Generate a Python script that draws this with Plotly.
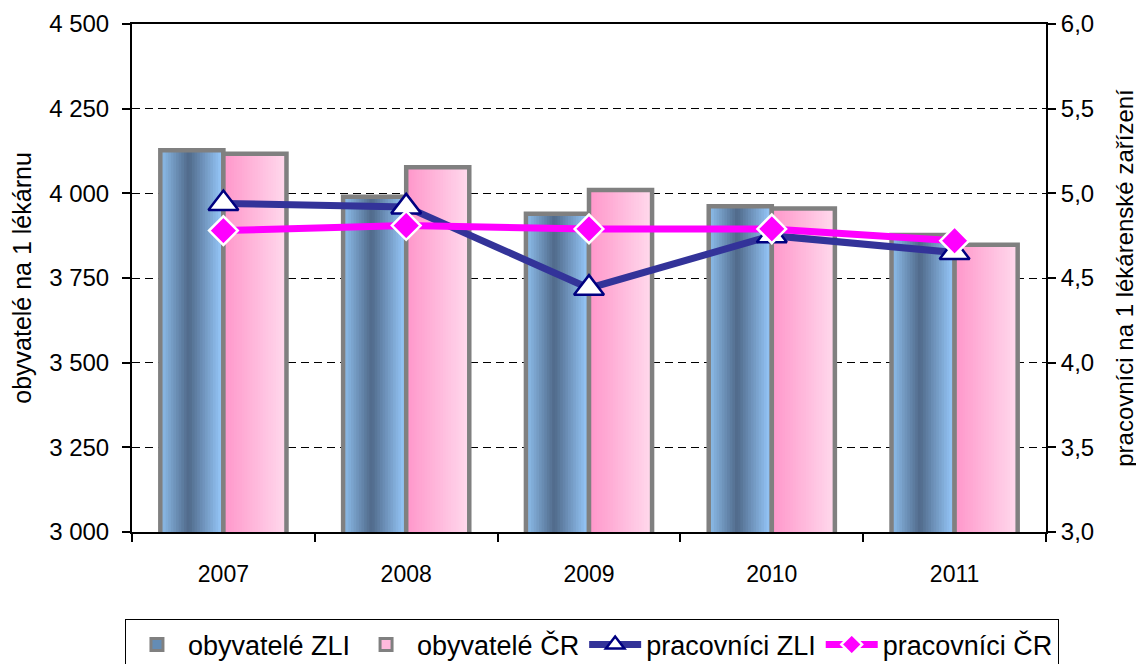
import plotly.graph_objects as go

years = ["2007", "2008", "2009", "2010", "2011"]
obyv_zli = [4127, 3990, 3940, 3962, 3877]
obyv_cr = [4117, 4077, 4010, 3955, 3848]
prac_zli = [4.94, 4.92, 4.44, 4.75, 4.65]
prac_cr = [4.78, 4.81, 4.79, 4.79, 4.72]

left_ticks = [3000, 3250, 3500, 3750, 4000, 4250, 4500]
right_ticks = [3.0, 3.5, 4.0, 4.5, 5.0, 5.5, 6.0]

FONT = "Liberation Sans, Arial, sans-serif"

# gradient definitions (position, rgb)
zli_stops = [(0.0, (143, 192, 238)), (0.45, (80, 106, 138)), (1.0, (153, 204, 255))]
cr_stops = [(0.0, (255, 150, 202)), (1.0, (255, 218, 237))]


def interp(stops, t):
    for (p0, c0), (p1, c1) in zip(stops[:-1], stops[1:]):
        if p0 <= t <= p1:
            f = (t - p0) / (p1 - p0) if p1 > p0 else 0
            c = [round(a + (b - a) * f) for a, b in zip(c0, c1)]
            return "rgb(%d,%d,%d)" % tuple(c)
    return "rgb(%d,%d,%d)" % stops[-1][1]


BW = 0.345
N = 24
fig = go.Figure()

# legend proxies
fig.add_trace(go.Bar(x=[None], y=[None], name="obyvatelé ZLI",
                     marker=dict(color="rgb(100,140,180)", line=dict(color="#808080", width=3))))
fig.add_trace(go.Bar(x=[None], y=[None], name="obyvatelé ČR",
                     marker=dict(color="rgb(255,185,220)", line=dict(color="#808080", width=3))))

for vals, stops, start in [(obyv_zli, zli_stops, -BW), (obyv_cr, cr_stops, 0.0)]:
    sw = BW / N
    for i in range(N):
        t = (i + 0.5) / N
        w = sw * 2 if i < N - 1 else sw
        fig.add_trace(go.Bar(x=years, y=vals, width=w, offset=start + i * sw,
                             marker=dict(color=interp(stops, t), line=dict(width=0)),
                             showlegend=False, hoverinfo="skip"))
    fig.add_trace(go.Bar(x=years, y=vals, width=BW, offset=start,
                         marker=dict(color="rgba(0,0,0,0)", line=dict(color="#808080", width=4.5)),
                         showlegend=False, hoverinfo="skip"))

fig.add_trace(go.Scatter(x=years, y=prac_zli, name="pracovníci ZLI", yaxis="y2",
                         mode="lines+markers",
                         line=dict(color="#333399", width=7),
                         marker=dict(symbol="triangle-up", size=26, color="white",
                                     line=dict(color="#000080", width=2.5))))
fig.add_trace(go.Scatter(x=years, y=prac_cr, name="pracovníci ČR", yaxis="y2",
                         mode="lines+markers",
                         line=dict(color="#FF00FF", width=7),
                         marker=dict(symbol="diamond", size=22, color="#FF00FF",
                                     line=dict(color="white", width=2.5))))

# the page body adds an 8px offset; margins compensate for it
fig.update_layout(
    width=1144, height=664,
    margin=dict(l=124, r=106, t=16, b=140, autoexpand=False),
    paper_bgcolor="white", plot_bgcolor="white",
    separators=", ",
    barmode="overlay",
    font=dict(family=FONT, size=24, color="black"),
    showlegend=True,
    legend=dict(orientation="h", x=-0.0077, xanchor="left",
                y=-0.172, yanchor="top",
                bordercolor="black", borderwidth=1, font=dict(size=27),
                itemwidth=52, traceorder="normal"),
    xaxis=dict(type="category", categoryorder="array", categoryarray=years,
               showline=True, linecolor="black", linewidth=2, mirror=True,
               ticks="outside", tickson="boundaries", ticklen=8, tickwidth=2,
               tickcolor="black", showgrid=False, tickfont=dict(size=23),
               ticklabelstandoff=20, automargin=False),
    yaxis=dict(range=[3000, 4500], tickvals=left_ticks, tickformat=",.0f",
               showline=True, linecolor="black", linewidth=2,
               ticks="outside", ticklen=8, tickwidth=2, tickcolor="black",
               showgrid=True, gridcolor="black", gridwidth=1, griddash="8px,5px",
               zeroline=False, automargin=False, tickfont=dict(size=24),
               ticklabelstandoff=8,
               title=dict(text="obyvatelé na 1 lékárnu", font=dict(size=25), standoff=20)),
    yaxis2=dict(range=[3.0, 6.0], tickvals=right_ticks, tickformat=".1f",
                overlaying="y", side="right",
                showline=True, linecolor="black", linewidth=2,
                ticks="outside", ticklen=8, tickwidth=2, tickcolor="black",
                showgrid=False, zeroline=False, automargin=False, tickfont=dict(size=24),
                title=dict(text="pracovníci na 1 lékárenské zařízení", font=dict(size=24), standoff=23)),
)

fig.write_html("out.html")
